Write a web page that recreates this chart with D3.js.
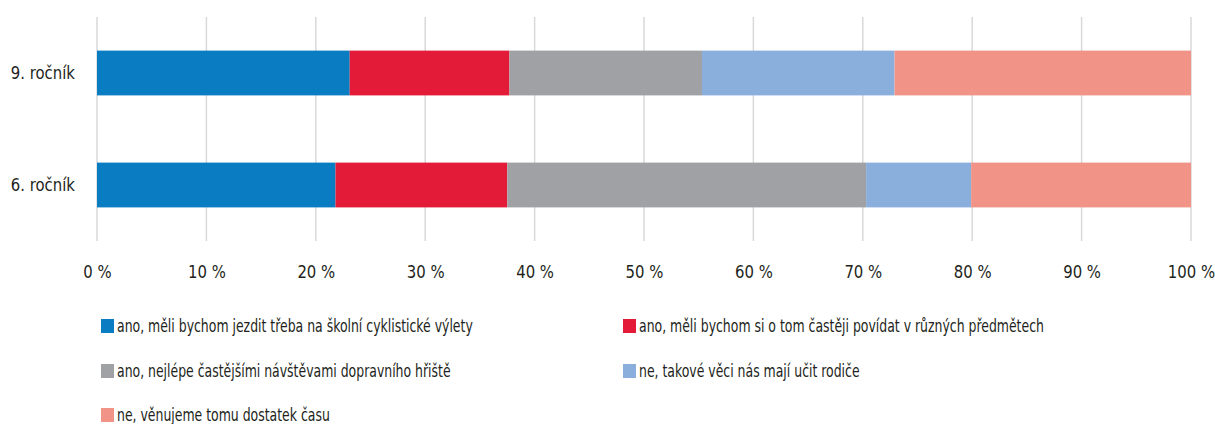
<!DOCTYPE html>
<meta charset="utf-8">
<style>
body { margin: 0; background: #fff; }
text { font-family: "Liberation Sans Narrow", "DejaVu Sans Condensed", sans-serif; fill: #231f20; }
.grid line { stroke: #d9d9d9; stroke-width: 1.5px; }
</style>
<svg width="1215" height="424"></svg>
<script src="https://d3js.org/d3.v7.min.js"></script>
<script>
// categories (top to bottom)
var categories = ["9. ročník", "6. ročník"];
// series names, in stacking order
var seriesNames = [
  "ano, měli bychom jezdit třeba na školní cyklistické výlety",
  "ano, měli bychom si o tom častěji povídat v různých předmětech",
  "ano, nejlépe častějšími návštěvami dopravního hřiště",
  "ne, takové věci nás mají učit rodiče",
  "ne, věnujeme tomu dostatek času"
];
var seriesColors = ["#0a7cc2", "#e41b38", "#a0a1a4", "#8aafdc", "#f19487"];
// percentage values per series, [9. ročník, 6. ročník]
var cyklo   = [23.1, 21.8];
var povidat = [14.6, 15.7];
var hriste  = [17.6, 32.8];
var rodice  = [17.6, 9.6];
var dost    = [27.1, 20.1];
var tickValues = [0, 10, 20, 30, 40, 50, 60, 70, 80, 90, 100];

var seriesValues = [cyklo, povidat, hriste, rodice, dost];

// the original font is a condensed one, squeeze the fallback font a bit
var squeeze = "scale(0.77,1)";
var squeezeAxis = "scale(0.92,1)";

var svg = d3.select("svg");

var x = d3.scaleLinear().domain([0, 100]).range([97, 1191]);
var y = d3.scaleBand().domain(categories).range([17, 241]).paddingInner(0.6).paddingOuter(0.3);

// build rows for stack
var rows = categories.map(function(c, i) {
  var r = { cat: c };
  seriesNames.forEach(function(s, k) { r[s] = seriesValues[k][i]; });
  return r;
});
var stacked = d3.stack().keys(seriesNames)(rows);

// gridlines
svg.append("g")
  .attr("class", "grid")
  .selectAll("line")
  .data(tickValues)
  .enter()
  .append("line")
  .attr("x1", function(d) { return x(d); })
  .attr("x2", function(d) { return x(d); })
  .attr("y1", 17)
  .attr("y2", 241);

// bars
svg.append("g")
  .selectAll("g")
  .data(stacked)
  .enter()
  .append("g")
  .attr("fill", function(d, i) { return seriesColors[i]; })
  .selectAll("rect")
  .data(function(d) { return d; })
  .enter()
  .append("rect")
  .attr("x", function(d) { return x(d[0]); })
  .attr("width", function(d) { return x(d[1]) - x(d[0]); })
  .attr("y", function(d) { return y(d.data.cat); })
  .attr("height", y.bandwidth());

// x axis labels
var xAxis = svg.append("g")
  .attr("transform", "translate(0,265)")
  .call(d3.axisBottom(x).tickValues(tickValues).tickSize(0).tickPadding(0)
    .tickFormat(function(d) { return d + " %"; }));
xAxis.select(".domain").remove();
xAxis.selectAll("text").style("font-size", "18px").attr("dy", "0.71em").attr("transform", squeezeAxis);

// y axis labels
var yAxis = svg.append("g")
  .attr("transform", "translate(75,0)")
  .call(d3.axisLeft(y).tickSize(0).tickPadding(0));
yAxis.select(".domain").remove();
yAxis.selectAll("text").style("font-size", "18px").attr("transform", squeezeAxis);

// legend
var legendPos = [[101, 326], [623, 326], [101, 371], [623, 371], [101, 415]];
var legend = svg.append("g")
  .selectAll("g")
  .data(seriesNames)
  .enter()
  .append("g")
  .attr("transform", function(d, i) { return "translate(" + legendPos[i][0] + "," + legendPos[i][1] + ")"; });
legend.append("rect")
  .attr("x", 0).attr("y", -7)
  .attr("width", 13).attr("height", 14)
  .attr("fill", function(d, i) { return seriesColors[i]; });
legend.append("g")
  .attr("transform", "translate(16,0) " + squeeze)
  .append("text")
  .attr("dy", "0.35em")
  .style("font-size", "18px")
  .text(function(d) { return d; });
</script>
